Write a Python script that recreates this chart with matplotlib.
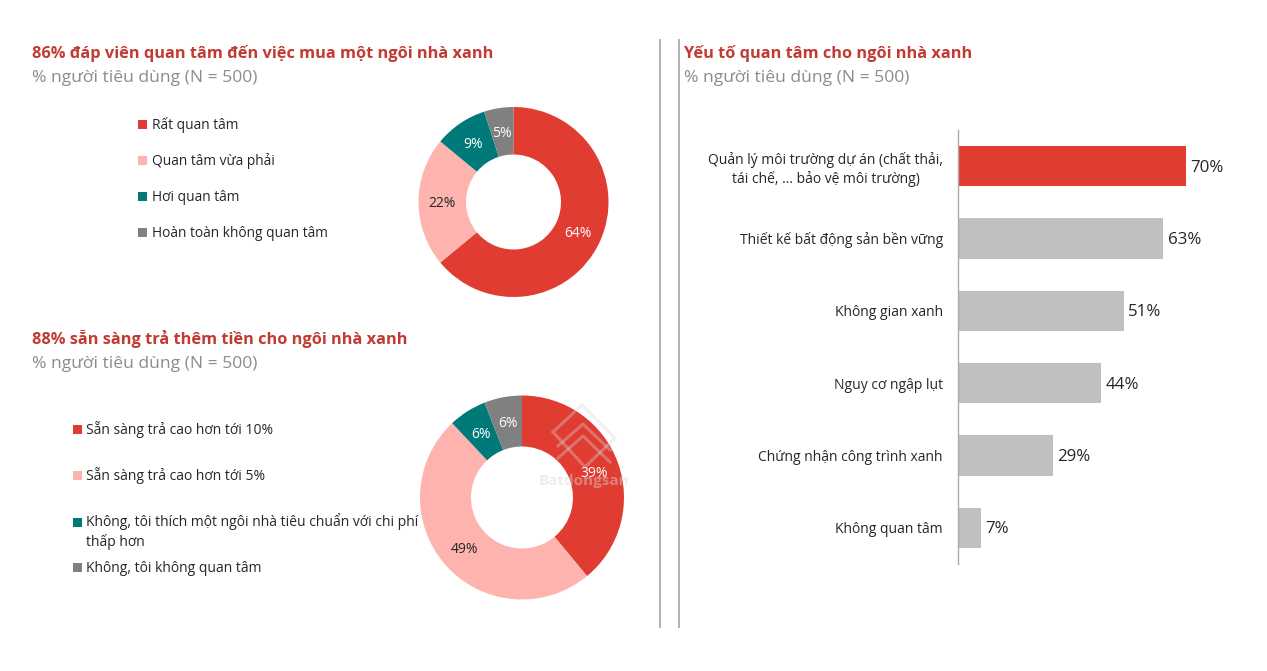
import matplotlib
matplotlib.use('Agg')
import matplotlib.pyplot as plt

plt.rcParams['font.family'] = ['Open Sans', 'Noto Sans', 'DejaVu Sans']

W, H = 1267, 671

# Data
interest_labels = ['Rất quan tâm', 'Quan tâm vừa phải', 'Hơi quan tâm', 'Hoàn toàn không quan tâm']
interest_values = [64, 22, 9, 5]
pay_labels = ['Sẵn sàng trả cao hơn tới 10%', 'Sẵn sàng trả cao hơn tới 5%',
              'Không, tôi thích một ngôi nhà tiêu chuẩn với chi phí\nthấp hơn',
              'Không, tôi không quan tâm']
pay_values = [39, 49, 6, 6]
factor_labels = ['Quản lý môi trường dự án (chất thải,\ntái chế, ... bảo vệ môi trường)',
                 'Thiết kế bất động sản bền vững', 'Không gian xanh', 'Nguy cơ ngập lụt',
                 'Chứng nhận công trình xanh', 'Không quan tâm']
factor_values = [70, 63, 51, 44, 29, 7]

RED = '#E03C31'
PINK = '#FFB3AE'
TEAL = '#007A78'
GREY = '#808080'
DONUT_COLORS = [RED, PINK, TEAL, GREY]
DARK = '#262626'


def px_axes(fig, x0, y0, x1, y1):
    # pixel box, y measured from the top like in the picture
    return fig.add_axes([x0 / W, 1 - y1 / H, (x1 - x0) / W, (y1 - y0) / H])


def donut(fig, cx, cy, r, values, text_colors):
    ax = px_axes(fig, cx - r, cy - r, cx + r, cy + r)
    wedges, _, autotexts = ax.pie(values, colors=DONUT_COLORS, startangle=90, counterclock=False,
                                  radius=1, wedgeprops={'width': 0.5}, pctdistance=0.75,
                                  autopct=lambda p: '{:.0f}%'.format(p))
    for t, c in zip(autotexts, text_colors):
        t.set_color(c)
        t.set_fontsize(10)
        # text sits a touch lower in the reference
        tx, ty = t.get_position()
        t.set_position((tx, ty - 1.5 / r))
    ax.set_xlim(-1, 1)
    ax.set_ylim(-1, 1)
    ax.set_aspect('equal')
    ax.axis('off')
    return ax


fig = plt.figure(figsize=(W / 100, H / 100), dpi=100, facecolor='white')

# overlay in pixel coords for titles, legends and divider lines
bg = fig.add_axes([0, 0, 1, 1])
bg.set_xlim(0, W)
bg.set_ylim(H, 0)
bg.axis('off')

# Dividers
bg.plot([660, 660], [40, 627], color='#ABABAB', linewidth=1.3)
bg.plot([679, 679], [40, 627], color='#ABABAB', linewidth=1.3)

# Titles
TITLE_RED = '#C23B33'
SUB_GREY = '#8C8C8C'
SUB = '% người tiêu dùng (N = 500)'
for x, y, title in [(32, 58, '86% đáp viên quan tâm đến việc mua một ngôi nhà xanh'),
                    (32, 344, '88% sẵn sàng trả thêm tiền cho ngôi nhà xanh'),
                    (684, 58, 'Yếu tố quan tâm cho ngôi nhà xanh')]:
    bg.text(x, y, title, color=TITLE_RED, fontsize=11.8, fontweight='bold', va='baseline', ha='left')
    bg.text(x, y + 24, SUB, color=SUB_GREY, fontsize=12.6, va='baseline', ha='left')

# Legends
for label, y, c in zip(interest_labels, [124, 160, 196, 232], DONUT_COLORS):
    bg.add_patch(plt.Rectangle((138, y - 4.5), 9, 9, color=c, linewidth=0))
    bg.text(152, y + 5, label, color=DARK, fontsize=9.9, va='baseline', ha='left')
for label, y, c in zip(pay_labels, [429, 475, 522, 567], DONUT_COLORS):
    bg.add_patch(plt.Rectangle((73, y - 4.5), 9, 9, color=c, linewidth=0))
    if '\n' in label:
        bg.text(86, y - 9, label, color=DARK, fontsize=10, va='top', ha='left', linespacing=1.3)
    else:
        bg.text(86, y + 5, label, color=DARK, fontsize=10, va='baseline', ha='left')

# Donuts
donut(fig, 513.5, 202, 95, interest_values, ['white', DARK, 'white', 'white'])
donut(fig, 522, 497.5, 102, pay_values, ['white', DARK, 'white', 'white'])

# Watermark over the second donut
wm = fig.add_axes([0, 0, 1, 1])
wm.set_xlim(0, W)
wm.set_ylim(H, 0)
wm.axis('off')
wm.patch.set_alpha(0)
wm_kw = {'color': '#D8D8D8', 'alpha': 0.35, 'linewidth': 2.2}
wm.plot([553, 582, 615, 585, 553], [432, 405, 438, 467, 432], **wm_kw)
wm.plot([558, 583, 610], [446, 424, 450], **wm_kw)
wm.plot([558, 583, 610], [458, 436, 462], **wm_kw)
wm.text(584, 481, 'Batdongsan', color='#D9D9D9', alpha=0.45, fontsize=11, fontweight='bold', ha='center', va='center')

# Bars
ax = px_axes(fig, 958, 130, 1254, 564)
pos = list(range(len(factor_values)))
colors = [RED] + ['#BFBFBF'] * (len(factor_values) - 1)
ax.barh(pos, factor_values, height=0.553, color=colors)
ax.set_ylim(len(factor_values) - 0.5, -0.5)
ax.set_xlim(0, 296 / 3.26)
ax.set_yticks(pos)
ax.set_yticklabels(factor_labels, fontsize=10, color=DARK, ma='center')
ax.tick_params(axis='y', length=0, pad=10.8)
ax.set_xticks([])
for s in ['top', 'right', 'bottom']:
    ax.spines[s].set_visible(False)
ax.spines['left'].set_color('#ABABAB')
ax.spines['left'].set_linewidth(1.0)
ax.patch.set_alpha(0)
for i, v in zip(pos, factor_values):
    ax.annotate('{}%'.format(v), xy=(v, i), xytext=(3, -1.2), textcoords='offset points',
                fontsize=12.2, color=DARK, va='center', ha='left')

fig.savefig('out.png', dpi=100)
plt.close(fig)
